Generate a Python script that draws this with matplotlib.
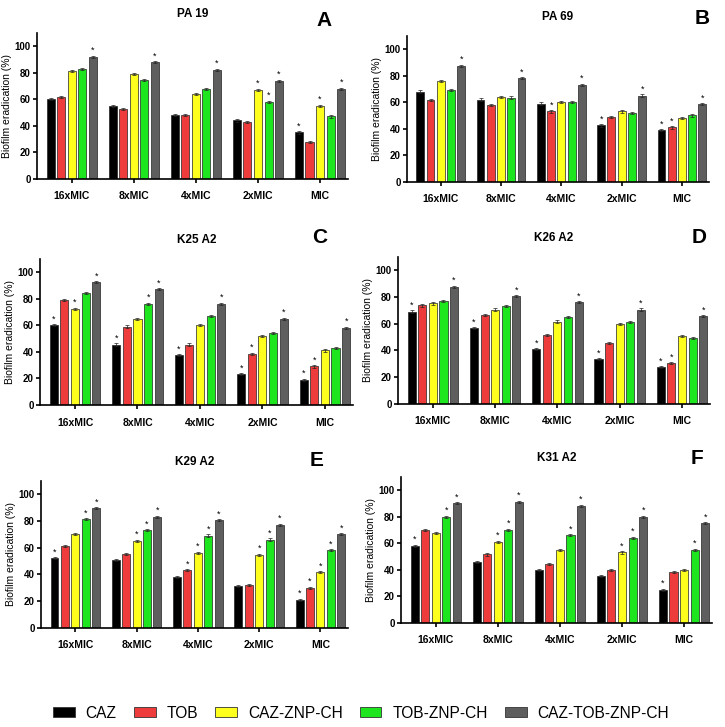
import matplotlib
matplotlib.use('Agg')
import numpy as np
import matplotlib.pyplot as plt
from matplotlib.patches import Patch

plt.rcParams['font.family'] = ['Liberation Sans', 'DejaVu Sans']

doses = ['16xMIC', '8xMIC', '4xMIC', '2xMIC', 'MIC']
treatments = ['CAZ', 'TOB', 'CAZ-ZNP-CH', 'TOB-ZNP-CH', 'CAZ-TOB-ZNP-CH']
colors = ['#000000', '#ee3b3b', '#ffff1e', '#1ee61e', '#5e5e5e']

# values: one row per treatment, one column per dose
pa19_vals = [[60, 55, 48, 44, 35],
             [61.5, 52.5, 48, 43, 28],
             [81.5, 79, 64, 67, 55],
             [83, 74.5, 68, 58, 47],
             [92, 88, 82, 74, 68]]
pa19_stars = [[0, 0, 0, 0, 1], [0, 0, 0, 0, 0], [0, 0, 0, 1, 1],
              [0, 0, 0, 1, 0], [1, 1, 1, 1, 1]]

pa69_vals = [[68, 62, 59, 42.5, 39],
             [61.5, 58, 53, 49, 41],
             [76, 64, 60, 53, 48],
             [69, 63.5, 60, 52, 50],
             [87.5, 78, 73, 65, 58.5]]
pa69_stars = [[0, 0, 0, 1, 1], [0, 0, 1, 0, 1], [0, 0, 0, 0, 0],
              [0, 0, 0, 0, 0], [1, 1, 1, 1, 1]]

k25_vals = [[60, 45.5, 37.5, 23, 19],
            [79, 59, 45.5, 38.5, 29],
            [72.5, 65, 60, 52, 41],
            [84, 76, 67, 54, 43],
            [92.5, 87, 76, 65, 58]]
k25_stars = [[1, 1, 1, 1, 1], [0, 0, 0, 1, 1], [1, 0, 0, 0, 0],
             [0, 1, 0, 0, 0], [1, 1, 1, 1, 1]]

k26_vals = [[69, 56.5, 41, 33.5, 27.5],
            [73.5, 66.5, 51.5, 45.5, 30.5],
            [75, 70.5, 61.5, 59.5, 51],
            [77, 73, 65, 61, 49.5],
            [87.5, 80.5, 76, 70.5, 65.5]]
k26_stars = [[1, 1, 1, 1, 1], [0, 0, 0, 0, 1], [0, 0, 0, 0, 0],
             [0, 0, 0, 0, 0], [1, 1, 1, 1, 1]]

k29_vals = [[52, 51, 38, 31.5, 21],
            [61, 55, 43, 32, 30],
            [70, 65, 56, 54.5, 41.5],
            [81, 73, 69, 66, 58],
            [89.5, 83, 80.5, 77, 70]]
k29_stars = [[1, 0, 0, 0, 1], [0, 0, 1, 0, 1], [0, 1, 1, 1, 1],
             [1, 1, 1, 1, 1], [1, 1, 1, 1, 1]]

k31_vals = [[58, 46, 40, 35.5, 25],
            [70, 51.5, 44.5, 40, 38],
            [67.5, 61, 55, 53, 40],
            [80, 70, 66, 64, 55],
            [90, 91, 88, 80, 75]]
k31_stars = [[1, 0, 0, 0, 1], [0, 0, 0, 0, 0], [0, 1, 0, 1, 0],
             [1, 1, 1, 1, 1], [1, 1, 1, 1, 1]]

sem = 0.8

panels = [
    ('PA 19', 'A', pa19_vals, pa19_stars, [0.051, 0.7538, 0.429, 0.2012], (324, 20)),
    ('PA 69', 'B', pa69_vals, pa69_stars, [0.5614, 0.7497, 0.4166, 0.2012], (702, 18)),
    ('K25 A2', 'C', k25_vals, k25_stars, [0.0552, 0.4429, 0.4317, 0.2012], (320, 238)),
    ('K26 A2', 'D', k26_vals, k26_stars, [0.549, 0.4443, 0.4303, 0.2028], (699, 238)),
    ('K29 A2', 'E', k29_vals, k29_stars, [0.0566, 0.1362, 0.4234, 0.2028], (317, 460)),
    ('K31 A2', 'F', k31_vals, k31_stars, [0.5531, 0.1431, 0.429, 0.2012], (697, 458)),
]

fig = plt.figure(figsize=(7.25, 7.27), dpi=100)
x = np.arange(len(doses))
step, bw = 0.17, 0.13

for title, letter, vals, stars, rect, lpos in panels:
    ax = fig.add_axes(rect)
    for i, (series, col) in enumerate(zip(vals, colors)):
        xs = x + (i - 2) * step
        ax.bar(xs, series, width=bw, color=col, edgecolor='#222222', linewidth=0.5,
               yerr=sem, capsize=1.5, error_kw=dict(elinewidth=0.5, capthick=0.5, ecolor='#222222'))
        for xi, v, s in zip(xs, series, stars[i]):
            if s:
                ax.text(xi, v + 1.3, '*', ha='center', va='bottom', fontsize=6.5)
    ax.set_xlim(-0.56, 4.45)
    ax.set_ylim(0, 110)
    ax.set_yticks([0, 20, 40, 60, 80, 100])
    ax.set_xticks(x)
    ax.set_xticklabels(doses, fontsize=7.5, fontweight='bold')
    for lab in ax.get_yticklabels():
        lab.set_fontweight('bold')
        lab.set_fontsize(7)
    ax.tick_params(axis='x', length=3, width=1.2, pad=6)
    ax.tick_params(axis='y', length=3, width=1.2, pad=1.5)
    for side in ['top', 'right']:
        ax.spines[side].set_visible(False)
    for side in ['left', 'bottom']:
        ax.spines[side].set_linewidth(1.2)
    ax.set_ylabel('Biofilm eradication (%)', fontsize=7.5, labelpad=2)
    ax.set_title(title, fontsize=8.5, fontweight='bold', pad=11)
    fig.text(lpos[0] / 725, 1 - lpos[1] / 727, letter, fontsize=15, fontweight='bold',
             ha='center', va='center')

handles = [Patch(facecolor=c, edgecolor='#333333', linewidth=0.6) for c in colors]
fig.legend(handles, treatments, loc='center', bbox_to_anchor=(0.498, 0.019), ncol=5,
           frameon=False, fontsize=11.2, handlelength=1.4, handleheight=0.62,
           handletextpad=0.7, columnspacing=1.1)

fig.savefig('out.png', dpi=100)
